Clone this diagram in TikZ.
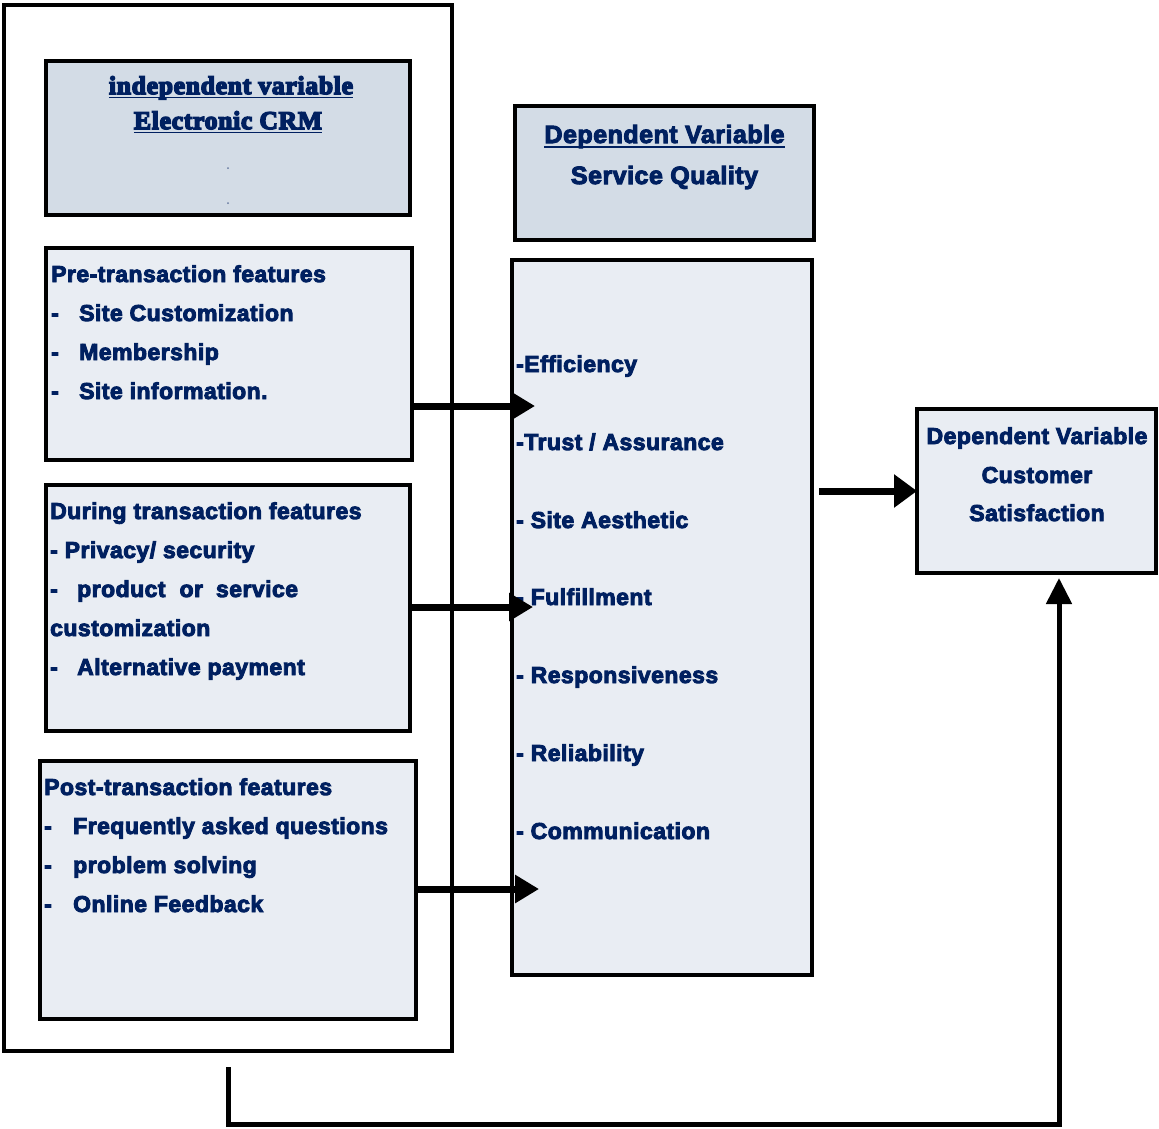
\documentclass[tikz,border=0pt]{standalone}
\usepackage{fontspec}
\setmainfont{Liberation Sans}[BoldFeatures={FakeBold=4, LetterSpace=2}]
\newfontfamily\titleserif{Liberation Serif}[BoldFeatures={FakeBold=6, LetterSpace=3}]
\usetikzlibrary{arrows.meta}
\definecolor{navy}{RGB}{0,32,96}
\definecolor{headfill}{RGB}{211,220,230}
\definecolor{bodyfill}{RGB}{233,237,243}

\begin{document}
\begin{tikzpicture}[x=1pt,y=-1pt,
  box/.style={draw=black, line width=4pt, inner sep=0pt, outer sep=0pt},
  headbox/.style={box, fill=headfill},
  bodybox/.style={box, fill=bodyfill},
  txt/.style={anchor=base west, inner sep=0pt, text=navy, font=\bfseries\fontsize{23}{28}\selectfont},
  ctxt/.style={txt, anchor=base},
  stxt/.style={anchor=base, inner sep=0pt, text=navy, font=\titleserif\bfseries\fontsize{25.5}{30}\selectfont},
  fat/.style={line width=7pt, -{Triangle[length=24pt,width=27pt]}},
  uline/.style={navy, line width=1.5pt},
]
\useasboundingbox (0,0) rectangle (1159,1128);

% outer frame around the independent variable
\node[box, fill=white, minimum width=448.5pt, minimum height=1046pt] (outer) at (227.75,528) {};

% boxes
\node[headbox, minimum width=364pt, minimum height=154.5pt] (indep) at (227.5,137.75) {};
\node[bodybox, minimum width=366pt, minimum height=212pt] (pre) at (229,354) {};
\node[bodybox, minimum width=364pt, minimum height=246pt] (during) at (228,608) {};
\node[bodybox, minimum width=376pt, minimum height=258pt] (post) at (228,890) {};
\node[headbox, minimum width=299pt, minimum height=134pt] (sqtitle) at (664.5,173) {};
\node[bodybox, minimum width=300pt, minimum height=715pt] (sq) at (662,617.5) {};
\node[bodybox, minimum width=239pt, minimum height=164pt] (cs) at (1036.5,491) {};

% independent variable heading
\node[stxt] (ivA) at (231,94) {independent variable};
\node[stxt] (ivB) at (228,129) {Electronic CRM};
\draw[uline] ([yshift=-3.5pt]ivA.base west) -- ([yshift=-3.5pt]ivA.base east);
\draw[uline] ([yshift=-3.5pt]ivB.base west) -- ([yshift=-3.5pt]ivB.base east);
\fill[navy!60] (228,168) circle (1pt);
\fill[navy!60] (228,203) circle (1pt);

% pre-transaction
\node[txt] (pre1) at (51,282) {Pre-transaction features};
\node[txt] (pre2) at (51,321) {\makebox[28pt][l]{-}Site Customization};
\node[txt] (pre3) at (51,360) {\makebox[28pt][l]{-}Membership};
\node[txt] (pre4) at (51,399) {\makebox[28pt][l]{-}Site information.};

% during transaction
\node[txt] (dur1) at (50,519) {During transaction features};
\node[txt] (dur2) at (50,558) {- Privacy/ security};
\node[txt] (dur3) at (50,597) {\makebox[27pt][l]{-}product\hspace{14pt}or\hspace{13pt}service};
\node[txt] (dur4) at (50,636) {customization};
\node[txt] (dur5) at (50,675) {\makebox[27pt][l]{-}Alternative payment};

% post-transaction
\node[txt] (post1) at (44,795) {Post-transaction features};
\node[txt] (post2) at (44,834) {\makebox[29pt][l]{-}Frequently asked questions};
\node[txt] (post3) at (44,873) {\makebox[29pt][l]{-}problem solving};
\node[txt] (post4) at (44,912) {\makebox[29pt][l]{-}Online Feedback};

% service quality
\node[ctxt, font=\bfseries\fontsize{25}{30}\selectfont] (sqA) at (664.5,143) {Dependent Variable};
\node[ctxt, font=\bfseries\fontsize{25}{30}\selectfont] (sqB) at (664.5,184) {Service Quality};
\draw[uline] ([yshift=-4pt]sqA.base west) -- ([yshift=-4pt]sqA.base east);

\node[txt] (sq1) at (516,372) {-Efficiency};
\node[txt] (sq2) at (516,450) {-Trust / Assurance};
\node[txt] (sq3) at (516,528) {- Site Aesthetic};
\node[txt] (sq4) at (516,605) {- Fulfillment};
\node[txt] (sq5) at (516,683) {- Responsiveness};
\node[txt] (sq6) at (516,761) {- Reliability};
\node[txt] (sq7) at (516,839) {- Communication};

% customer satisfaction
\node[ctxt] (csA) at (1037,444) {Dependent Variable};
\node[ctxt] (csB) at (1037,483) {Customer};
\node[ctxt] (csC) at (1037,521) {Satisfaction};

% connectors
\coordinate (inA) at (535,406);
\coordinate (inB) at (533,607);
\coordinate (inC) at (539,889);
\coordinate (outD) at (819,491);
\coordinate (eStart) at (228,1067);
\coordinate (eCorner) at (1059,1124);
\coordinate (eTip) at (1059,578);

\draw[fat] (pre.east |- inA) -- (inA);
\draw[fat] (during.east |- inB) -- (inB);
\draw[fat] (post.east |- inC) -- (inC);
\draw[line width=7pt, -{Triangle[length=23pt,width=32pt]}] (outD) -- (cs.west |- outD);
\draw[line width=5pt, -{Triangle[length=26pt,width=25pt]}] (eStart) |- (eCorner) -- (eTip);
\end{tikzpicture}
\end{document}
